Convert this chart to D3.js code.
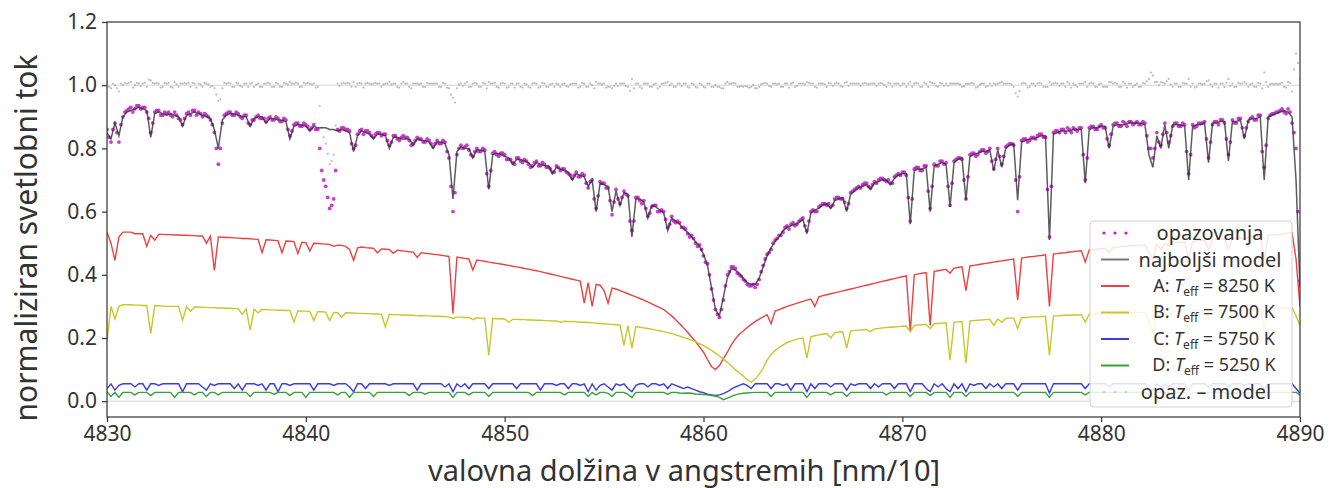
<!DOCTYPE html>
<html><head><meta charset="utf-8">
<script src="https://cdn.jsdelivr.net/npm/d3@7"></script>
<style>body{margin:0;background:#fff}text{font-family:"Noto Sans",sans-serif}</style>
</head><body>
<svg id="chart" width="1329" height="488"></svg>
<script>
// wavelength grid: 4830.0 .. 4890.0 Å, step 0.2 Å
const waveStart = 4830, waveStep = 0.2;

const bestModel = [
0.85,0.83,0.88,0.84,0.90,
0.915,0.92,0.925,0.93,0.925,
0.92,0.835,0.91,0.915,0.91,
0.905,0.91,0.905,0.90,0.87,
0.905,0.91,0.915,0.91,0.905,
0.90,0.895,0.86,0.80,0.89,
0.905,0.91,0.91,0.905,0.90,
0.90,0.87,0.895,0.90,0.90,
0.88,0.895,0.895,0.89,0.89,
0.885,0.83,0.87,0.875,0.875,
0.87,0.855,0.87,0.865,0.865,
0.865,0.86,0.86,0.855,0.86,
0.855,0.85,0.79,0.84,0.855,
0.85,0.845,0.83,0.845,0.845,
0.84,0.80,0.835,0.835,0.83,
0.83,0.83,0.81,0.83,0.825,
0.825,0.82,0.80,0.82,0.82,
0.815,0.78,0.64,0.79,0.805,
0.80,0.80,0.77,0.795,0.795,
0.79,0.67,0.78,0.785,0.78,
0.775,0.77,0.75,0.765,0.765,
0.76,0.755,0.74,0.755,0.75,
0.745,0.745,0.72,0.74,0.735,
0.73,0.725,0.70,0.72,0.715,
0.71,0.68,0.70,0.60,0.69,
0.685,0.68,0.60,0.665,0.62,
0.66,0.655,0.52,0.64,0.64,
0.63,0.58,0.62,0.615,0.605,
0.595,0.54,0.58,0.57,0.56,
0.545,0.535,0.52,0.505,0.49,
0.465,0.43,0.36,0.29,0.27,
0.33,0.39,0.42,0.415,0.405,
0.39,0.375,0.37,0.37,0.39,
0.425,0.46,0.485,0.505,0.52,
0.54,0.55,0.555,0.56,0.565,
0.575,0.53,0.595,0.605,0.61,
0.62,0.625,0.61,0.635,0.64,
0.645,0.60,0.655,0.665,0.675,
0.68,0.685,0.67,0.69,0.695,
0.70,0.70,0.685,0.705,0.715,
0.72,0.72,0.56,0.73,0.735,
0.735,0.74,0.60,0.745,0.75,
0.755,0.75,0.615,0.755,0.765,
0.77,0.636,0.775,0.78,0.785,
0.79,0.79,0.795,0.73,0.795,
0.74,0.80,0.81,0.815,0.636,
0.82,0.825,0.83,0.83,0.835,
0.84,0.84,0.51,0.845,0.85,
0.855,0.855,0.855,0.86,0.86,
0.86,0.69,0.86,0.865,0.865,
0.87,0.87,0.80,0.87,0.875,
0.875,0.875,0.88,0.88,0.88,
0.88,0.875,0.78,0.74,0.84,
0.80,0.875,0.80,0.875,0.875,
0.875,0.87,0.70,0.87,0.875,
0.875,0.88,0.755,0.88,0.88,
0.885,0.885,0.76,0.885,0.885,
0.89,0.83,0.89,0.895,0.895,
0.90,0.70,0.90,0.905,0.91,
0.915,0.92,0.915,0.90,0.70,
0.36];

// observations on the main grid (4830.0, 4830.2, ...)
const observed = [
0.86,0.82,0.88,0.82,0.90,
0.92,0.93,0.925,0.935,0.93,
0.915,0.85,0.915,0.92,0.905,
0.91,0.905,0.915,0.895,0.875,
0.91,0.905,0.92,0.915,0.90,
0.905,0.89,0.85,0.75,0.88,
0.91,0.915,0.905,0.91,0.895,
0.905,0.875,0.89,0.905,0.895,
0.885,0.90,0.89,0.895,0.885,
0.89,0.84,0.875,0.88,0.87,
0.875,0.86,0.875,0.86,0.73,
0.68,0.61,0.64,0.86,0.865,
0.86,0.855,0.80,0.845,0.86,
0.855,0.85,0.835,0.85,0.84,
0.845,0.81,0.84,0.83,0.835,
0.835,0.825,0.815,0.835,0.83,
0.82,0.825,0.805,0.825,0.815,
0.82,0.77,0.60,0.78,0.81,
0.805,0.795,0.775,0.80,0.79,
0.795,0.68,0.785,0.78,0.785,
0.78,0.765,0.755,0.77,0.76,
0.765,0.75,0.745,0.76,0.745,
0.75,0.74,0.725,0.745,0.73,
0.735,0.72,0.705,0.725,0.71,
0.715,0.675,0.70,0.61,0.695,
0.69,0.675,0.59,0.67,0.625,
0.665,0.65,0.54,0.645,0.635,
0.635,0.585,0.615,0.62,0.60,
0.60,0.55,0.585,0.565,0.565,
0.55,0.53,0.525,0.50,0.495,
0.46,0.435,0.355,0.29,0.265,
0.32,0.40,0.425,0.42,0.40,
0.385,0.37,0.365,0.36,0.385,
0.43,0.465,0.48,0.51,0.525,
0.535,0.555,0.56,0.555,0.57,
0.58,0.54,0.60,0.60,0.615,
0.625,0.62,0.615,0.64,0.645,
0.64,0.61,0.66,0.67,0.68,
0.685,0.69,0.675,0.695,0.70,
0.705,0.695,0.69,0.71,0.72,
0.725,0.715,0.57,0.735,0.74,
0.73,0.745,0.61,0.75,0.745,
0.76,0.755,0.62,0.76,0.77,
0.765,0.64,0.78,0.785,0.78,
0.795,0.785,0.80,0.735,0.80,
0.75,0.805,0.815,0.81,0.60,
0.825,0.83,0.825,0.835,0.84,
0.845,0.835,0.52,0.85,0.855,
0.86,0.85,0.86,0.865,0.855,
0.865,0.70,0.865,0.87,0.86,
0.875,0.865,0.81,0.875,0.88,
0.87,0.88,0.885,0.875,0.885,
0.875,0.88,0.80,0.77,0.85,
0.81,0.88,0.82,0.87,0.88,
0.87,0.875,0.72,0.875,0.87,
0.88,0.885,0.77,0.875,0.885,
0.89,0.88,0.78,0.89,0.88,
0.895,0.84,0.885,0.90,0.89,
0.905,0.74,0.895,0.91,0.915,
0.92,0.915,0.925,0.88,0.80,
0.38];

// observations between grid points (4830.1, 4830.3, ... 4889.9)
const observedHalf = [
0.835,0.86,0.85,0.875,0.915,
0.925,0.915,0.935,0.925,0.93,
0.895,0.88,0.92,0.905,0.915,
0.915,0.90,0.905,0.89,0.895,
0.915,0.92,0.905,0.91,0.91,
0.90,0.875,0.80,0.80,0.905,
0.915,0.905,0.915,0.90,0.905,
0.88,0.89,0.90,0.895,0.895,
0.895,0.89,0.90,0.885,0.895,
0.86,0.855,0.88,0.87,0.88,
0.87,0.865,0.86,0.80,0.70,
0.645,0.62,0.73,0.855,0.865,
0.86,0.815,0.81,0.855,0.845,
0.855,0.84,0.845,0.85,0.845,
0.825,0.82,0.84,0.825,0.84,
0.835,0.81,0.825,0.83,0.82,
0.83,0.815,0.815,0.815,0.825,
0.79,0.68,0.66,0.80,0.80,
0.81,0.78,0.79,0.79,0.80,
0.72,0.73,0.79,0.775,0.785,
0.765,0.765,0.75,0.77,0.755,
0.76,0.74,0.755,0.745,0.755,
0.74,0.735,0.725,0.74,0.735,
0.725,0.715,0.715,0.71,0.72,
0.69,0.695,0.64,0.65,0.69,
0.675,0.635,0.63,0.64,0.645,
0.655,0.57,0.57,0.645,0.625,
0.61,0.595,0.62,0.60,0.605,
0.575,0.56,0.57,0.57,0.55,
0.545,0.52,0.515,0.49,0.48,
0.44,0.40,0.32,0.275,0.29,
0.365,0.41,0.425,0.405,0.395,
0.38,0.365,0.37,0.37,0.41,
0.45,0.47,0.50,0.515,0.525,
0.55,0.545,0.565,0.56,0.575,
0.555,0.57,0.605,0.60,0.62,
0.625,0.625,0.62,0.645,0.64,
0.63,0.625,0.665,0.675,0.675,
0.69,0.68,0.685,0.69,0.705,
0.70,0.70,0.69,0.715,0.715,
0.725,0.645,0.64,0.74,0.73,
0.745,0.665,0.68,0.745,0.76,
0.75,0.68,0.69,0.765,0.77,
0.70,0.71,0.785,0.775,0.79,
0.795,0.79,0.76,0.765,0.775,
0.775,0.81,0.815,0.70,0.71,
0.83,0.82,0.835,0.83,0.845,
0.835,0.67,0.68,0.855,0.85,
0.86,0.865,0.85,0.86,0.865,
0.78,0.77,0.87,0.86,0.87,
0.865,0.83,0.845,0.88,0.87,
0.885,0.87,0.885,0.88,0.875,
0.885,0.84,0.80,0.80,0.82,
0.845,0.85,0.84,0.88,0.87,
0.88,0.79,0.78,0.865,0.88,
0.88,0.83,0.82,0.885,0.875,
0.89,0.83,0.82,0.88,0.895,
0.865,0.865,0.895,0.89,0.905,
0.79,0.81,0.905,0.91,0.915,
0.925,0.91,0.915,0.85,0.60];

const modelA = [
0.535,0.50,0.446,0.52,0.535,
0.535,0.535,0.53,0.53,0.53,
0.49,0.525,0.51,0.528,0.528,
0.527,0.527,0.526,0.526,0.525,
0.525,0.524,0.524,0.523,0.523,
0.50,0.522,0.414,0.52,0.519,
0.518,0.518,0.517,0.516,0.515,
0.515,0.514,0.513,0.512,0.47,
0.511,0.51,0.509,0.508,0.47,
0.507,0.506,0.505,0.467,0.503,
0.502,0.475,0.50,0.499,0.498,
0.497,0.496,0.49,0.494,0.493,
0.49,0.48,0.446,0.485,0.488,
0.486,0.485,0.484,0.47,0.482,
0.481,0.48,0.468,0.478,0.476,
0.475,0.473,0.472,0.455,0.47,
0.468,0.467,0.465,0.464,0.462,
0.46,0.458,0.278,0.456,0.454,
0.452,0.45,0.415,0.447,0.445,
0.443,0.44,0.438,0.436,0.434,
0.432,0.43,0.427,0.425,0.423,
0.42,0.418,0.415,0.413,0.41,
0.407,0.404,0.401,0.398,0.395,
0.392,0.389,0.386,0.383,0.38,
0.31,0.375,0.30,0.37,0.367,
0.35,0.31,0.358,0.355,0.35,
0.345,0.34,0.335,0.33,0.325,
0.32,0.314,0.308,0.302,0.296,
0.29,0.28,0.27,0.258,0.245,
0.232,0.218,0.203,0.188,0.172,
0.155,0.132,0.11,0.10,0.113,
0.135,0.155,0.178,0.197,0.212,
0.222,0.233,0.243,0.252,0.26,
0.267,0.274,0.245,0.285,0.29,
0.295,0.30,0.304,0.308,0.312,
0.316,0.32,0.323,0.30,0.33,
0.334,0.337,0.34,0.343,0.346,
0.349,0.352,0.355,0.358,0.361,
0.364,0.367,0.37,0.373,0.376,
0.379,0.382,0.385,0.388,0.391,
0.394,0.397,0.22,0.40,0.403,
0.405,0.407,0.24,0.411,0.413,
0.415,0.417,0.405,0.421,0.423,
0.425,0.35,0.428,0.43,0.432,
0.434,0.436,0.438,0.44,0.442,
0.444,0.446,0.448,0.45,0.32,
0.453,0.455,0.457,0.458,0.46,
0.461,0.463,0.30,0.466,0.467,
0.469,0.47,0.472,0.473,0.475,
0.476,0.44,0.479,0.48,0.481,
0.483,0.484,0.47,0.487,0.488,
0.489,0.49,0.491,0.492,0.493,
0.494,0.495,0.47,0.45,0.497,
0.48,0.499,0.49,0.501,0.502,
0.503,0.504,0.45,0.506,0.507,
0.508,0.509,0.48,0.511,0.512,
0.513,0.514,0.48,0.516,0.517,
0.518,0.51,0.52,0.521,0.522,
0.523,0.45,0.525,0.526,0.527,
0.528,0.53,0.532,0.533,0.45,
0.30];

const modelB = [
0.19,0.30,0.26,0.30,0.305,
0.305,0.305,0.304,0.304,0.303,
0.303,0.214,0.302,0.302,0.301,
0.30,0.30,0.30,0.30,0.256,
0.299,0.285,0.298,0.298,0.297,
0.297,0.296,0.296,0.295,0.295,
0.294,0.294,0.293,0.293,0.275,
0.292,0.225,0.291,0.28,0.29,
0.29,0.289,0.289,0.288,0.288,
0.287,0.287,0.25,0.286,0.285,
0.285,0.284,0.255,0.283,0.283,
0.282,0.255,0.281,0.28,0.265,
0.28,0.279,0.279,0.278,0.278,
0.277,0.277,0.276,0.276,0.275,
0.235,0.275,0.274,0.274,0.273,
0.273,0.272,0.272,0.27,0.271,
0.27,0.27,0.269,0.269,0.268,
0.268,0.267,0.262,0.266,0.266,
0.265,0.265,0.258,0.264,0.263,
0.263,0.146,0.262,0.261,0.261,
0.26,0.25,0.259,0.259,0.258,
0.258,0.257,0.257,0.256,0.256,
0.255,0.255,0.254,0.254,0.25,
0.253,0.252,0.252,0.251,0.25,
0.25,0.249,0.248,0.247,0.246,
0.245,0.244,0.243,0.242,0.241,
0.177,0.239,0.168,0.236,0.234,
0.232,0.23,0.228,0.225,0.223,
0.22,0.217,0.214,0.21,0.206,
0.202,0.198,0.193,0.188,0.182,
0.176,0.169,0.161,0.152,0.143,
0.133,0.123,0.112,0.10,0.09,
0.08,0.068,0.06,0.07,0.085,
0.105,0.13,0.148,0.16,0.17,
0.178,0.185,0.19,0.195,0.198,
0.20,0.136,0.204,0.207,0.21,
0.212,0.214,0.20,0.217,0.219,
0.22,0.168,0.222,0.224,0.225,
0.226,0.227,0.22,0.229,0.23,
0.232,0.233,0.234,0.235,0.236,
0.237,0.238,0.22,0.24,0.241,
0.242,0.243,0.23,0.245,0.246,
0.247,0.248,0.13,0.25,0.251,
0.252,0.12,0.254,0.255,0.256,
0.257,0.258,0.259,0.24,0.26,
0.25,0.262,0.263,0.263,0.23,
0.265,0.265,0.266,0.267,0.267,
0.268,0.268,0.145,0.27,0.27,
0.271,0.272,0.272,0.273,0.273,
0.274,0.25,0.275,0.275,0.276,
0.276,0.277,0.26,0.278,0.278,
0.279,0.279,0.28,0.28,0.281,
0.281,0.281,0.25,0.22,0.282,
0.26,0.283,0.27,0.284,0.284,
0.285,0.285,0.22,0.286,0.286,
0.287,0.287,0.26,0.288,0.288,
0.288,0.289,0.26,0.289,0.29,
0.29,0.28,0.291,0.291,0.292,
0.292,0.23,0.293,0.293,0.294,
0.294,0.295,0.295,0.296,0.27,
0.24];

const modelC = [
0.04,0.055,0.035,0.05,0.055,
0.055,0.055,0.045,0.055,0.055,
0.035,0.055,0.055,0.05,0.055,
0.055,0.055,0.055,0.055,0.03,
0.055,0.055,0.055,0.055,0.045,
0.035,0.055,0.05,0.055,0.055,
0.055,0.055,0.04,0.055,0.035,
0.055,0.055,0.055,0.05,0.055,
0.035,0.055,0.055,0.03,0.055,
0.055,0.05,0.055,0.055,0.055,
0.055,0.055,0.035,0.055,0.055,
0.055,0.055,0.05,0.055,0.055,
0.055,0.045,0.03,0.055,0.055,
0.04,0.055,0.055,0.055,0.055,
0.055,0.05,0.055,0.055,0.055,
0.055,0.055,0.055,0.035,0.055,
0.055,0.055,0.055,0.055,0.055,
0.045,0.055,0.03,0.055,0.045,
0.055,0.04,0.055,0.055,0.055,
0.055,0.04,0.055,0.055,0.055,
0.055,0.055,0.055,0.04,0.055,
0.055,0.055,0.055,0.055,0.035,
0.055,0.055,0.055,0.05,0.055,
0.055,0.04,0.055,0.055,0.05,
0.055,0.03,0.055,0.035,0.05,
0.055,0.045,0.035,0.055,0.05,
0.055,0.04,0.03,0.05,0.055,
0.055,0.045,0.055,0.055,0.05,
0.055,0.04,0.055,0.05,0.045,
0.04,0.045,0.04,0.035,0.03,
0.027,0.022,0.02,0.018,0.02,
0.024,0.03,0.038,0.045,0.05,
0.055,0.05,0.04,0.055,0.055,
0.055,0.055,0.04,0.055,0.055,
0.05,0.055,0.035,0.055,0.055,
0.055,0.03,0.055,0.04,0.055,
0.055,0.055,0.045,0.055,0.055,
0.055,0.035,0.055,0.05,0.055,
0.055,0.055,0.04,0.055,0.045,
0.055,0.055,0.055,0.04,0.055,
0.055,0.055,0.03,0.055,0.055,
0.055,0.04,0.03,0.055,0.045,
0.055,0.04,0.03,0.055,0.04,
0.055,0.03,0.055,0.05,0.055,
0.055,0.04,0.055,0.045,0.055,
0.04,0.055,0.055,0.055,0.035,
0.055,0.055,0.055,0.055,0.055,
0.055,0.055,0.025,0.055,0.055,
0.055,0.055,0.055,0.055,0.055,
0.055,0.04,0.055,0.055,0.055,
0.055,0.055,0.045,0.055,0.055,
0.055,0.055,0.055,0.055,0.055,
0.055,0.055,0.04,0.035,0.055,
0.045,0.055,0.045,0.055,0.055,
0.055,0.055,0.035,0.055,0.055,
0.055,0.055,0.045,0.055,0.055,
0.055,0.055,0.045,0.055,0.055,
0.055,0.05,0.055,0.055,0.055,
0.055,0.035,0.055,0.055,0.055,
0.055,0.055,0.055,0.055,0.04,
0.025];

const modelD = [
0.03,0.015,0.028,0.012,0.028,
0.028,0.028,0.02,0.028,0.028,
0.028,0.018,0.028,0.028,0.028,
0.028,0.028,0.012,0.028,0.028,
0.028,0.028,0.02,0.028,0.028,
0.015,0.028,0.028,0.02,0.028,
0.028,0.028,0.028,0.028,0.028,
0.028,0.015,0.028,0.028,0.028,
0.028,0.028,0.022,0.028,0.028,
0.028,0.018,0.028,0.028,0.028,
0.012,0.028,0.028,0.028,0.028,
0.028,0.028,0.028,0.02,0.028,
0.028,0.012,0.028,0.028,0.028,
0.028,0.028,0.015,0.028,0.028,
0.028,0.028,0.028,0.028,0.028,
0.028,0.018,0.028,0.028,0.028,
0.022,0.028,0.028,0.028,0.028,
0.028,0.028,0.012,0.028,0.028,
0.028,0.02,0.028,0.028,0.028,
0.028,0.015,0.028,0.028,0.028,
0.028,0.028,0.028,0.028,0.028,
0.028,0.028,0.018,0.028,0.028,
0.028,0.028,0.028,0.028,0.028,
0.02,0.028,0.028,0.028,0.028,
0.028,0.015,0.028,0.02,0.028,
0.028,0.025,0.015,0.028,0.028,
0.028,0.022,0.012,0.028,0.028,
0.028,0.028,0.028,0.028,0.028,
0.028,0.022,0.028,0.028,0.026,
0.025,0.026,0.025,0.023,0.022,
0.021,0.02,0.018,0.016,0.012,
0.005,0.01,0.015,0.02,0.023,
0.025,0.026,0.027,0.028,0.028,
0.028,0.028,0.015,0.028,0.028,
0.028,0.028,0.028,0.028,0.028,
0.028,0.012,0.028,0.028,0.028,
0.028,0.028,0.02,0.028,0.028,
0.028,0.015,0.028,0.028,0.028,
0.028,0.028,0.028,0.028,0.028,
0.028,0.02,0.028,0.028,0.028,
0.028,0.028,0.015,0.028,0.028,
0.028,0.028,0.018,0.028,0.028,
0.028,0.028,0.012,0.028,0.028,
0.028,0.015,0.028,0.028,0.028,
0.028,0.028,0.028,0.028,0.028,
0.028,0.028,0.028,0.028,0.015,
0.028,0.028,0.028,0.028,0.028,
0.028,0.028,0.012,0.028,0.028,
0.028,0.028,0.028,0.028,0.028,
0.028,0.02,0.028,0.028,0.028,
0.028,0.028,0.028,0.028,0.028,
0.028,0.028,0.028,0.028,0.028,
0.028,0.028,0.02,0.015,0.028,
0.028,0.028,0.028,0.028,0.028,
0.028,0.028,0.015,0.028,0.028,
0.028,0.028,0.028,0.028,0.028,
0.028,0.028,0.02,0.028,0.028,
0.028,0.028,0.028,0.028,0.028,
0.028,0.015,0.028,0.028,0.028,
0.028,0.028,0.028,0.028,0.028,
0.02];

const xTicks = [4830, 4840, 4850, 4860, 4870, 4880, 4890];
const yTicks = [0.0, 0.2, 0.4, 0.6, 0.8, 1.0, 1.2];
const componentLetters = ["A", "B", "C", "D"];
const componentTeff = [8250, 7500, 5750, 5250];
const componentColors = ["#ee4040", "#c9c62a", "#3b3be0", "#36a036"];
const labelObs = "opazovanja", labelModel = "najboljši model", labelResid = "opaz. – model";
const xTitle = "valovna dolžina v angstremih [nm/10]";
const yTitle = "normaliziran svetlobni tok";

const wave = bestModel.map((_, i) => waveStart + i * waveStep);
// all observations with wavelength, and residual (obs - model) shifted to 1
const obsPoints = observed.map((v, i) => ({w: wave[i], v: v, r: 1 + v - bestModel[i]}))
  .concat(observedHalf.map((v, i) => ({w: wave[i] + waveStep / 2, v: v,
    r: 1 + v - (bestModel[i] + bestModel[i + 1]) / 2})));

const svg = d3.select("#chart");
const L = 107, R = 1300, T = 22, B = 417;
const x = d3.scaleLinear().domain([4830, 4890]).range([L, R]);
const y = d3.scaleLinear().domain([-0.05, 1.2]).range([B, T]);

svg.append("defs").append("clipPath").attr("id", "clip")
  .append("rect").attr("x", L).attr("y", T).attr("width", R - L).attr("height", B - T);

const plot = svg.append("g").attr("clip-path", "url(#clip)");

// reference lines at 0 and 1
plot.selectAll("line.ref").data([0, 1]).enter().append("line")
  .attr("x1", L).attr("x2", R).attr("y1", d => y(d)).attr("y2", d => y(d))
  .attr("stroke", "#d6d6d6").attr("stroke-width", 1);

// residuals
plot.append("g").selectAll("circle").data(obsPoints).enter().append("circle")
  .attr("cx", d => x(d.w)).attr("cy", d => y(d.r)).attr("r", 1.1)
  .attr("fill", "#9a9a9a").attr("opacity", 0.65);

const line = d3.line().x((d, i) => x(wave[i])).y(d => y(d));
[modelA, modelB, modelC, modelD].forEach((s, k) => {
  plot.append("path").datum(s).attr("d", line).attr("fill", "none")
    .attr("stroke", componentColors[k]).attr("stroke-width", 1.4);
});

// observations
plot.append("g").selectAll("circle").data(obsPoints).enter().append("circle")
  .attr("cx", d => x(d.w)).attr("cy", d => y(d.v)).attr("r", 1.9)
  .attr("fill", "#c01ec6").attr("opacity", 0.85);

// best model
plot.append("path").datum(bestModel).attr("d", line).attr("fill", "none")
  .attr("stroke", "#2e2e2e").attr("stroke-width", 1.5).attr("opacity", 0.78);

// axes
const xAxis = svg.append("g").attr("transform", `translate(0,${B})`)
  .call(d3.axisBottom(x).tickValues(xTicks).tickSize(5).tickPadding(4).tickFormat(d3.format("d")));
const yAxis = svg.append("g").attr("transform", `translate(${L},0)`)
  .call(d3.axisLeft(y).tickValues(yTicks).tickSize(5).tickPadding(5).tickFormat(d3.format(".1f")));
[xAxis, yAxis].forEach(g => {
  g.select(".domain").remove();
  g.selectAll(".tick line").attr("stroke", "#333").attr("stroke-width", 1.2);
  g.selectAll(".tick text").attr("fill", "#333").style("font-size", "21px").style("font-family", "Noto Sans");
});

svg.append("rect").attr("x", L).attr("y", T).attr("width", R - L).attr("height", B - T)
  .attr("fill", "none").attr("stroke", "#333").attr("stroke-width", 1.2);

svg.append("text").attr("x", 684).attr("y", 481).attr("text-anchor", "middle")
  .attr("fill", "#333").style("font-size", "29px").text(xTitle);
svg.append("text").attr("transform", "translate(37,238) rotate(-90)").attr("text-anchor", "middle")
  .attr("fill", "#333").style("font-size", "30px").text(yTitle);

// legend
const lg = svg.append("g");
lg.append("rect").attr("x", 1090).attr("y", 221).attr("width", 202).attr("height", 186)
  .attr("rx", 4).attr("fill", "#fff").attr("fill-opacity", 0.85).attr("stroke", "#d0d0d0");
const rowY = i => 233 + i * 26.5;
const lx1 = 1101, lx2 = 1129, tx = 1210;
[1104, 1115, 1126].forEach(cx => lg.append("circle").attr("cx", cx).attr("cy", rowY(0)).attr("r", 1.6).attr("fill", "#c01ec6"));
lg.append("text").attr("x", tx).attr("y", rowY(0)).attr("dy", "0.35em").attr("text-anchor", "middle")
  .attr("fill", "#333").style("font-size", "20px").text(labelObs);
lg.append("line").attr("x1", lx1).attr("x2", lx2).attr("y1", rowY(1)).attr("y2", rowY(1)).attr("stroke", "#777").attr("stroke-width", 2);
lg.append("text").attr("x", tx).attr("y", rowY(1)).attr("dy", "0.35em").attr("text-anchor", "middle")
  .attr("fill", "#333").style("font-size", "20px").text(labelModel);
componentLetters.forEach((c, k) => {
  const yy = rowY(k + 2);
  lg.append("line").attr("x1", lx1).attr("x2", lx2).attr("y1", yy).attr("y2", yy).attr("stroke", componentColors[k]).attr("stroke-width", 2);
  const t = lg.append("text").attr("x", tx + 4).attr("y", yy).attr("dy", "0.33em").attr("text-anchor", "middle")
    .attr("fill", "#333").style("font-size", "18px");
  t.append("tspan").text(c + ": ");
  t.append("tspan").style("font-style", "italic").text("T");
  t.append("tspan").attr("dy", "4").style("font-size", "12px").text("eff");
  t.append("tspan").attr("dy", "-4").text(" = " + componentTeff[k] + " K");
});
[1104, 1115, 1126].forEach(cx => lg.append("circle").attr("cx", cx).attr("cy", rowY(6)).attr("r", 1.1).attr("fill", "#bbb"));
lg.append("text").attr("x", tx - 4).attr("y", rowY(6)).attr("dy", "0.35em").attr("text-anchor", "middle")
  .attr("fill", "#333").style("font-size", "20px").text(labelResid);
</script>
</body></html>
